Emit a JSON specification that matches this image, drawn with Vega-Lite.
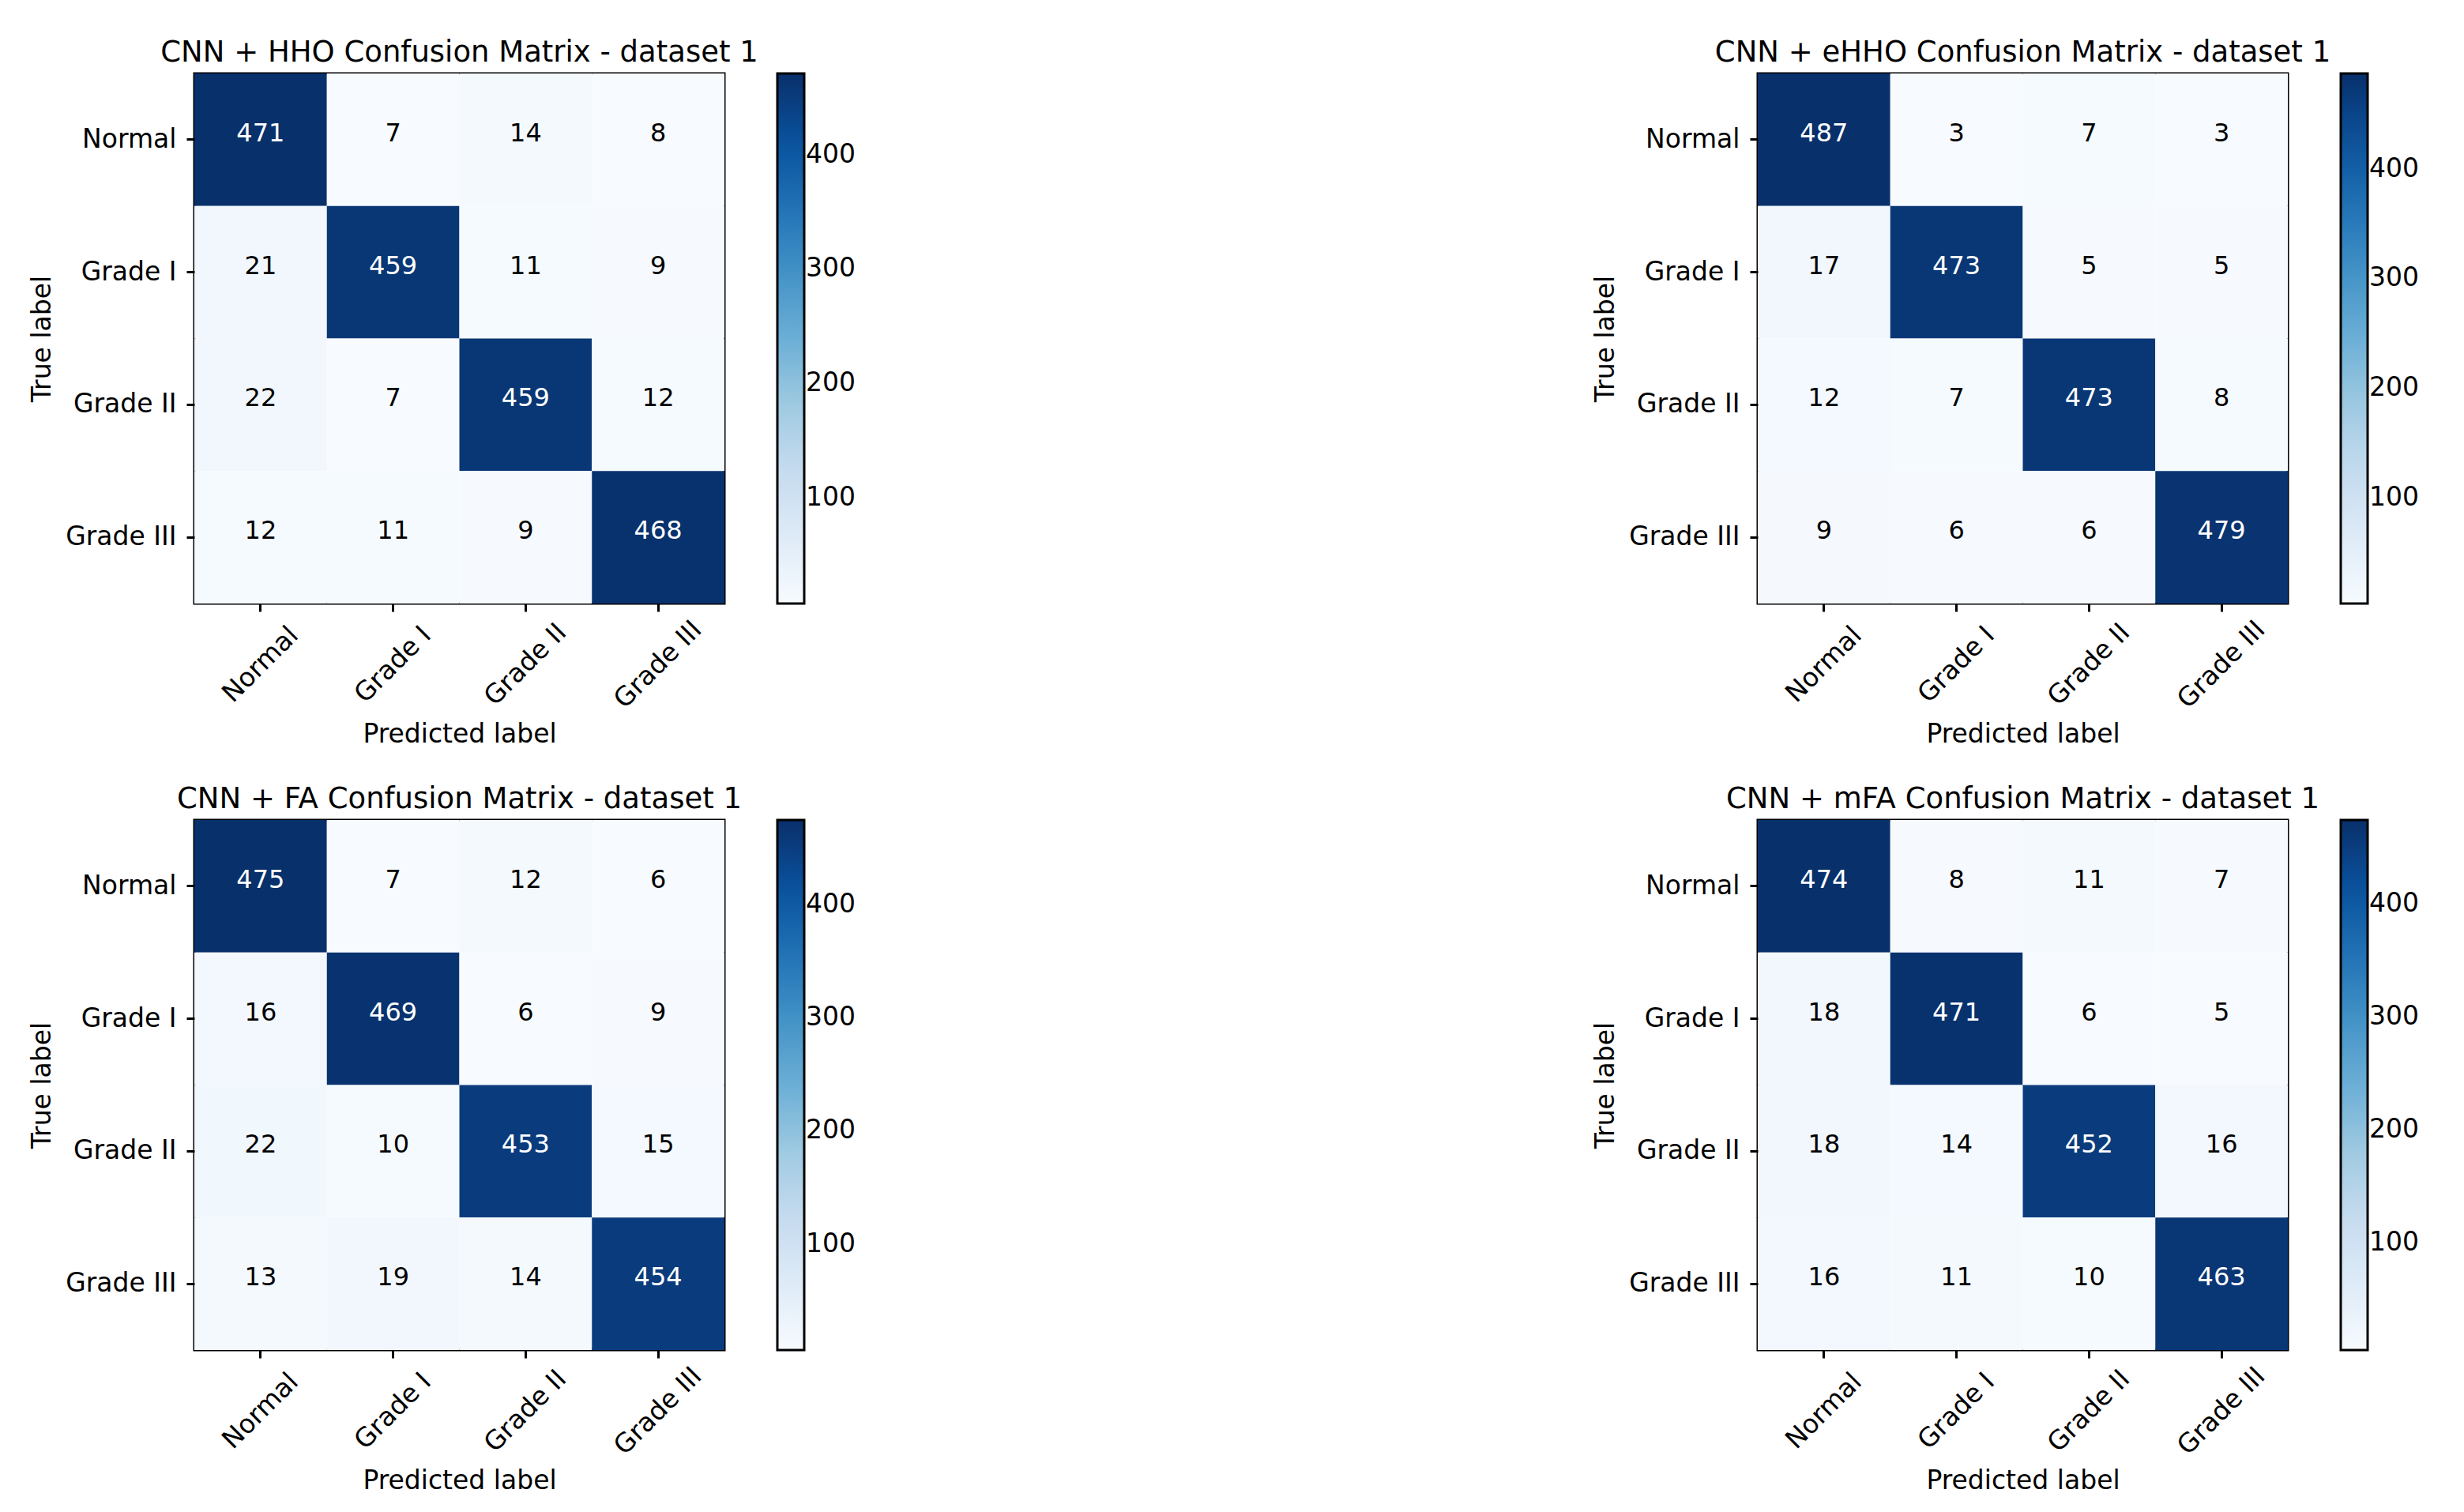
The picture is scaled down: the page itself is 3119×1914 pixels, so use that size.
{
  "$schema": "https://vega.github.io/schema/vega-lite/v6.json",
  "background": "white",
  "padding": {"left": 36, "top": 46, "right": 10, "bottom": 10},
  "config": {
    "font": "DejaVu Sans",
    "view": {"stroke": "black", "strokeWidth": 3},
    "axis": {"labelFont": "DejaVu Sans", "labelFontSize": 33, "labelColor": "black", "titleFont": "DejaVu Sans", "titleFontSize": 33, "titleFontWeight": "normal", "titleColor": "black", "tickColor": "black", "tickWidth": 3, "tickSize": 10, "domain": false, "grid": false, "labelPadding": 13},
    "legend": {"gradientStrokeColor": "black", "gradientStrokeWidth": 3, "labelFont": "DejaVu Sans", "labelFontSize": 33, "labelColor": "black", "labelOffset": 22, "gradientVerticalMaxLength": 700, "gradientLength": 671, "gradientThickness": 34, "padding": 0, "offset": 67},
    "title": {"font": "DejaVu Sans", "fontSize": 37, "fontWeight": "normal", "color": "black", "anchor": "middle", "frame": "group", "offset": 7}
  },
  "datasets": {
    "hho": [
      {"actual": "Normal", "pred": "Normal", "v": 471}, {"actual": "Normal", "pred": "Grade I", "v": 7}, {"actual": "Normal", "pred": "Grade II", "v": 14}, {"actual": "Normal", "pred": "Grade III", "v": 8},
      {"actual": "Grade I", "pred": "Normal", "v": 21}, {"actual": "Grade I", "pred": "Grade I", "v": 459}, {"actual": "Grade I", "pred": "Grade II", "v": 11}, {"actual": "Grade I", "pred": "Grade III", "v": 9},
      {"actual": "Grade II", "pred": "Normal", "v": 22}, {"actual": "Grade II", "pred": "Grade I", "v": 7}, {"actual": "Grade II", "pred": "Grade II", "v": 459}, {"actual": "Grade II", "pred": "Grade III", "v": 12},
      {"actual": "Grade III", "pred": "Normal", "v": 12}, {"actual": "Grade III", "pred": "Grade I", "v": 11}, {"actual": "Grade III", "pred": "Grade II", "v": 9}, {"actual": "Grade III", "pred": "Grade III", "v": 468}
    ],
    "ehho": [
      {"actual": "Normal", "pred": "Normal", "v": 487}, {"actual": "Normal", "pred": "Grade I", "v": 3}, {"actual": "Normal", "pred": "Grade II", "v": 7}, {"actual": "Normal", "pred": "Grade III", "v": 3},
      {"actual": "Grade I", "pred": "Normal", "v": 17}, {"actual": "Grade I", "pred": "Grade I", "v": 473}, {"actual": "Grade I", "pred": "Grade II", "v": 5}, {"actual": "Grade I", "pred": "Grade III", "v": 5},
      {"actual": "Grade II", "pred": "Normal", "v": 12}, {"actual": "Grade II", "pred": "Grade I", "v": 7}, {"actual": "Grade II", "pred": "Grade II", "v": 473}, {"actual": "Grade II", "pred": "Grade III", "v": 8},
      {"actual": "Grade III", "pred": "Normal", "v": 9}, {"actual": "Grade III", "pred": "Grade I", "v": 6}, {"actual": "Grade III", "pred": "Grade II", "v": 6}, {"actual": "Grade III", "pred": "Grade III", "v": 479}
    ],
    "fa": [
      {"actual": "Normal", "pred": "Normal", "v": 475}, {"actual": "Normal", "pred": "Grade I", "v": 7}, {"actual": "Normal", "pred": "Grade II", "v": 12}, {"actual": "Normal", "pred": "Grade III", "v": 6},
      {"actual": "Grade I", "pred": "Normal", "v": 16}, {"actual": "Grade I", "pred": "Grade I", "v": 469}, {"actual": "Grade I", "pred": "Grade II", "v": 6}, {"actual": "Grade I", "pred": "Grade III", "v": 9},
      {"actual": "Grade II", "pred": "Normal", "v": 22}, {"actual": "Grade II", "pred": "Grade I", "v": 10}, {"actual": "Grade II", "pred": "Grade II", "v": 453}, {"actual": "Grade II", "pred": "Grade III", "v": 15},
      {"actual": "Grade III", "pred": "Normal", "v": 13}, {"actual": "Grade III", "pred": "Grade I", "v": 19}, {"actual": "Grade III", "pred": "Grade II", "v": 14}, {"actual": "Grade III", "pred": "Grade III", "v": 454}
    ],
    "mfa": [
      {"actual": "Normal", "pred": "Normal", "v": 474}, {"actual": "Normal", "pred": "Grade I", "v": 8}, {"actual": "Normal", "pred": "Grade II", "v": 11}, {"actual": "Normal", "pred": "Grade III", "v": 7},
      {"actual": "Grade I", "pred": "Normal", "v": 18}, {"actual": "Grade I", "pred": "Grade I", "v": 471}, {"actual": "Grade I", "pred": "Grade II", "v": 6}, {"actual": "Grade I", "pred": "Grade III", "v": 5},
      {"actual": "Grade II", "pred": "Normal", "v": 18}, {"actual": "Grade II", "pred": "Grade I", "v": 14}, {"actual": "Grade II", "pred": "Grade II", "v": 452}, {"actual": "Grade II", "pred": "Grade III", "v": 16},
      {"actual": "Grade III", "pred": "Normal", "v": 16}, {"actual": "Grade III", "pred": "Grade I", "v": 11}, {"actual": "Grade III", "pred": "Grade II", "v": 10}, {"actual": "Grade III", "pred": "Grade III", "v": 463}
    ]
  },
  "columns": 2,
  "spacing": {"row": 274, "column": 1308},
  "bounds": "flush",
  "resolve": {"scale": {"color": "independent"}, "legend": {"color": "independent"}},
  "concat": [
    {
      "title": "CNN + HHO Confusion Matrix - dataset 1",
      "width": 671, "height": 671,
      "data": {"name": "hho"},
      "encoding": {
        "x": {"field": "pred", "type": "nominal", "sort": ["Normal", "Grade I", "Grade II", "Grade III"], "scale": {"paddingInner": 0, "paddingOuter": 0}, "axis": {"title": "Predicted label", "labelAngle": -45, "labelAlign": "center", "labelBaseline": "middle", "labelPadding": 67, "titlePadding": 11}},
        "y": {"field": "actual", "type": "nominal", "sort": ["Normal", "Grade I", "Grade II", "Grade III"], "scale": {"paddingInner": 0, "paddingOuter": 0}, "axis": {"title": "True label", "titlePadding": 12}}
      },
      "layer": [
        {"mark": {"type": "rect"}, "encoding": {"color": {"field": "v", "type": "quantitative", "scale": {"range": ["#f7fbff", "#deebf7", "#c6dbef", "#9ecae1", "#6baed6", "#4292c6", "#2171b5", "#08519c", "#08306b"], "zero": false, "nice": false}, "legend": {"title": null, "values": [100, 200, 300, 400]}}}},
        {"mark": {"type": "text", "fontSize": 32, "dy": -8}, "encoding": {"text": {"field": "v", "type": "quantitative"}, "color": {"condition": {"test": "datum.v > 240", "value": "white"}, "value": "black"}}}
      ]
    },
    {
      "title": "CNN + eHHO Confusion Matrix - dataset 1",
      "width": 671, "height": 671,
      "data": {"name": "ehho"},
      "encoding": {
        "x": {"field": "pred", "type": "nominal", "sort": ["Normal", "Grade I", "Grade II", "Grade III"], "scale": {"paddingInner": 0, "paddingOuter": 0}, "axis": {"title": "Predicted label", "labelAngle": -45, "labelAlign": "center", "labelBaseline": "middle", "labelPadding": 67, "titlePadding": 11}},
        "y": {"field": "actual", "type": "nominal", "sort": ["Normal", "Grade I", "Grade II", "Grade III"], "scale": {"paddingInner": 0, "paddingOuter": 0}, "axis": {"title": "True label", "titlePadding": 12}}
      },
      "layer": [
        {"mark": {"type": "rect"}, "encoding": {"color": {"field": "v", "type": "quantitative", "scale": {"range": ["#f7fbff", "#deebf7", "#c6dbef", "#9ecae1", "#6baed6", "#4292c6", "#2171b5", "#08519c", "#08306b"], "zero": false, "nice": false}, "legend": {"title": null, "values": [100, 200, 300, 400]}}}},
        {"mark": {"type": "text", "fontSize": 32, "dy": -8}, "encoding": {"text": {"field": "v", "type": "quantitative"}, "color": {"condition": {"test": "datum.v > 240", "value": "white"}, "value": "black"}}}
      ]
    },
    {
      "title": "CNN + FA Confusion Matrix - dataset 1",
      "width": 671, "height": 671,
      "data": {"name": "fa"},
      "encoding": {
        "x": {"field": "pred", "type": "nominal", "sort": ["Normal", "Grade I", "Grade II", "Grade III"], "scale": {"paddingInner": 0, "paddingOuter": 0}, "axis": {"title": "Predicted label", "labelAngle": -45, "labelAlign": "center", "labelBaseline": "middle", "labelPadding": 67, "titlePadding": 11}},
        "y": {"field": "actual", "type": "nominal", "sort": ["Normal", "Grade I", "Grade II", "Grade III"], "scale": {"paddingInner": 0, "paddingOuter": 0}, "axis": {"title": "True label", "titlePadding": 12}}
      },
      "layer": [
        {"mark": {"type": "rect"}, "encoding": {"color": {"field": "v", "type": "quantitative", "scale": {"range": ["#f7fbff", "#deebf7", "#c6dbef", "#9ecae1", "#6baed6", "#4292c6", "#2171b5", "#08519c", "#08306b"], "zero": false, "nice": false}, "legend": {"title": null, "values": [100, 200, 300, 400]}}}},
        {"mark": {"type": "text", "fontSize": 32, "dy": -8}, "encoding": {"text": {"field": "v", "type": "quantitative"}, "color": {"condition": {"test": "datum.v > 240", "value": "white"}, "value": "black"}}}
      ]
    },
    {
      "title": "CNN + mFA Confusion Matrix - dataset 1",
      "width": 671, "height": 671,
      "data": {"name": "mfa"},
      "encoding": {
        "x": {"field": "pred", "type": "nominal", "sort": ["Normal", "Grade I", "Grade II", "Grade III"], "scale": {"paddingInner": 0, "paddingOuter": 0}, "axis": {"title": "Predicted label", "labelAngle": -45, "labelAlign": "center", "labelBaseline": "middle", "labelPadding": 67, "titlePadding": 11}},
        "y": {"field": "actual", "type": "nominal", "sort": ["Normal", "Grade I", "Grade II", "Grade III"], "scale": {"paddingInner": 0, "paddingOuter": 0}, "axis": {"title": "True label", "titlePadding": 12}}
      },
      "layer": [
        {"mark": {"type": "rect"}, "encoding": {"color": {"field": "v", "type": "quantitative", "scale": {"range": ["#f7fbff", "#deebf7", "#c6dbef", "#9ecae1", "#6baed6", "#4292c6", "#2171b5", "#08519c", "#08306b"], "zero": false, "nice": false}, "legend": {"title": null, "values": [100, 200, 300, 400]}}}},
        {"mark": {"type": "text", "fontSize": 32, "dy": -8}, "encoding": {"text": {"field": "v", "type": "quantitative"}, "color": {"condition": {"test": "datum.v > 240", "value": "white"}, "value": "black"}}}
      ]
    }
  ]
}
